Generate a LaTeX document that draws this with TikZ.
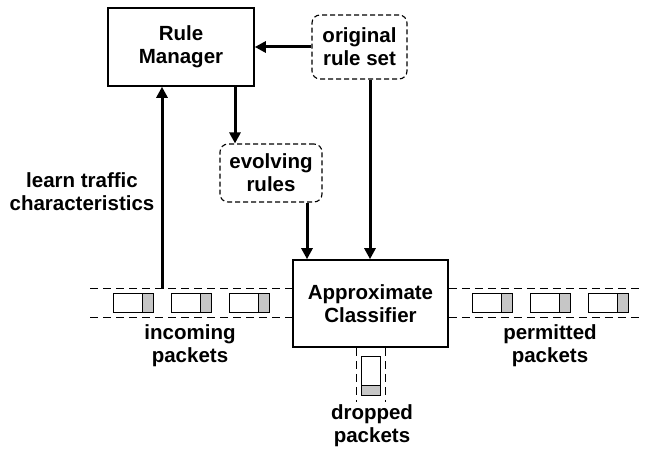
\documentclass[tikz,border=0pt]{standalone}
\usepackage{fontspec}
\setmainfont{Liberation Sans}
\usetikzlibrary{arrows.meta,positioning}

\begin{document}
\begin{tikzpicture}[x=1pt,y=-1pt,>={Triangle[length=11pt,width=11pt]},
 font=\fontsize{20.5}{23}\selectfont\bfseries,
 box/.style={draw,line width=1.6pt,align=center,inner sep=0pt},
 dbox/.style={draw,rounded corners=8pt,line width=1.1pt,dash pattern=on 5pt off 3pt,align=center,inner sep=0pt},
 flow/.style={->,line width=3pt},
 lane/.style={line width=1pt,dash pattern=on 8pt off 5pt},
 pkt/.style={line width=1pt},
 lbl/.style={align=center,inner sep=0pt}]
\useasboundingbox (0,0) rectangle (649,449);
\node[box,minimum width=146pt,minimum height=78pt] (manager) at (181,47) {Rule\\Manager};
\node[dbox,minimum width=95pt,minimum height=64pt] (origset) at (359.5,47) {original\\rule set};
\node[dbox,minimum width=102pt,minimum height=58pt] (evolving) at (271,173) {evolving\\rules};
\node[box,minimum width=155pt,minimum height=87pt] (classifier) at (370.5,303.5) {Approximate\\Classifier};
% labels
\node[lbl] (learn) at (82,192) {learn traffic\\characteristics};
\node[lbl] (incoming) at (190,346) {incoming\\packets};
\node[lbl] (permitted) at (550,346) {permitted\\packets};
\node[lbl] (dropped) at (372,426) {dropped\\packets};
% packet lanes
\coordinate (laneT) at (90,289);
\coordinate (laneB) at (90,318);
\draw[lane] (laneT) -- (classifier.west |- laneT);
\draw[lane] (laneB) -- (classifier.west |- laneB);
\draw[lane] (classifier.east |- laneT) -- (643,289);
\draw[lane] (classifier.east |- laneB) -- (643,318);
\draw[lane] ([xshift=-14.5pt]classifier.south) -- ++(0,54);
\draw[lane] ([xshift=14.5pt]classifier.south) -- ++(0,54);
\foreach \x in {113,171,229,472,530,588} {
 \draw[pkt,fill=gray!45] (\x+29,294) rectangle (\x+40,313);
 \draw[pkt] (\x,294) rectangle (\x+40,313);
}
\draw[pkt,fill=gray!45] (361,386) rectangle (380,396);
\draw[pkt] (361,357) rectangle (380,396);
% connectors
\coordinate (learnfoot) at (162,289);
\coordinate (m1) at ([xshift=54pt]manager.south);
\coordinate (e1) at ([xshift=36pt]evolving.south);
\coordinate (o1) at ([xshift=10.5pt]origset.south);
\draw[flow] (origset) -- (manager);
\draw[flow] (learnfoot) -- (learnfoot |- manager.south);
\draw[flow] (m1) -- (m1 |- evolving.north);
\draw[flow] (e1) -- (e1 |- classifier.north);
\draw[flow] (o1) -- (o1 |- classifier.north);
\end{tikzpicture}
\end{document}
